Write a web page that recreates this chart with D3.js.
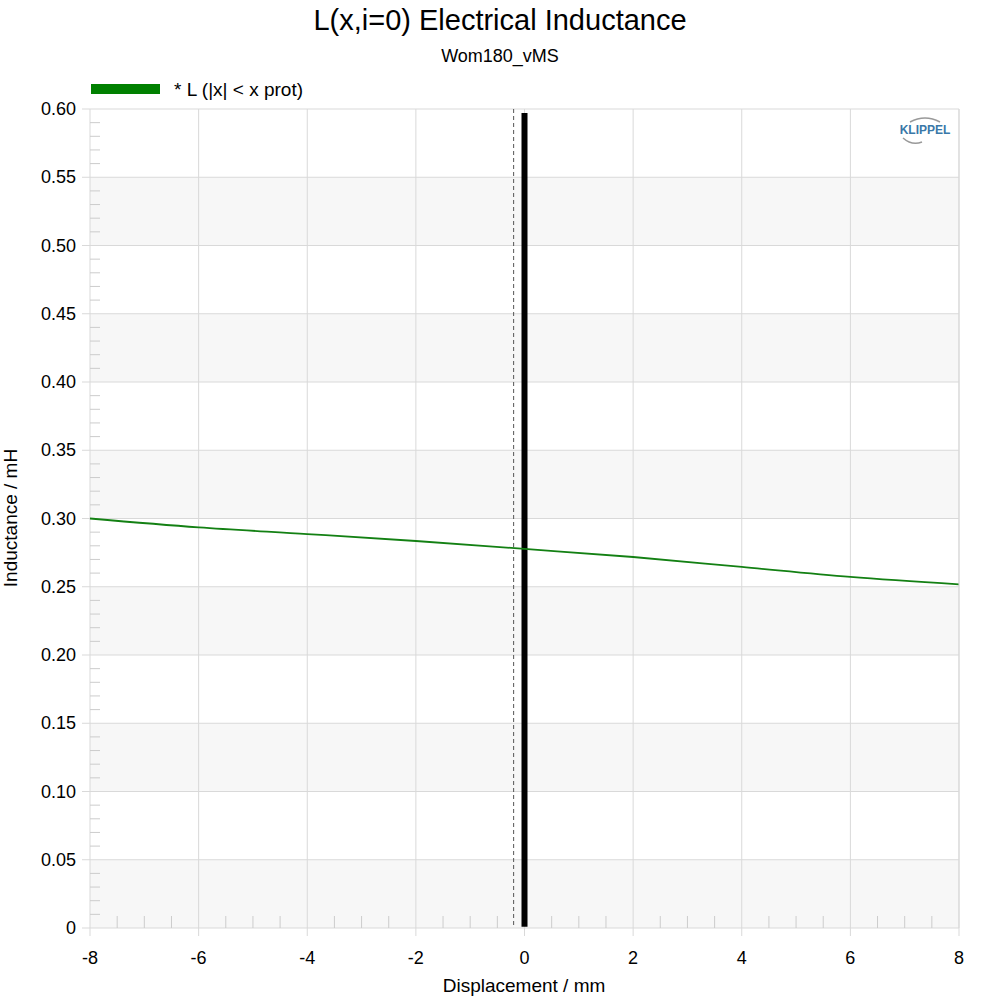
<!DOCTYPE html>
<html><head><meta charset="utf-8">
<script src="https://cdn.jsdelivr.net/npm/d3@7"></script>
<style>body{margin:0;background:#fff;font-family:Arial,"Liberation Sans",sans-serif;}</style>
</head><body><div id="chart"></div>
<script>
// data
var xs = [-8, -6, -4, -2, 0, 2, 4, 6, 8];
var inductance = [0.300, 0.2935, 0.2886, 0.2835, 0.2777, 0.2718, 0.2645, 0.2572, 0.2518];
var xTicks = [-8, -6, -4, -2, 0, 2, 4, 6, 8];
var yTicks = [0, 0.05, 0.10, 0.15, 0.20, 0.25, 0.30, 0.35, 0.40, 0.45, 0.50, 0.55, 0.60];
var xProt = 0, xRest = -0.2;

var W = 1000, H = 1000, m = {l: 90, r: 41, t: 109, b: 72};
var svg = d3.select("#chart").append("svg").attr("width", W).attr("height", H);
var x = d3.scaleLinear().domain([-8, 8]).range([m.l, W - m.r]);
var y = d3.scaleLinear().domain([0, 0.6]).range([H - m.b, m.t]);

// bands
for (var i = 0; i < yTicks.length - 1; i += 2) {
  svg.append("rect").attr("x", x(-8)).attr("width", x(8) - x(-8))
    .attr("y", y(yTicks[i + 1])).attr("height", y(yTicks[i]) - y(yTicks[i + 1]))
    .attr("fill", "#f7f7f7");
}
// grid
svg.selectAll(".gx").data(xTicks).enter().append("line")
  .attr("x1", d => x(d)).attr("x2", d => x(d)).attr("y1", y(0.6)).attr("y2", y(0) + 8)
  .attr("stroke", "#d9d9d9");
svg.selectAll(".gy").data(yTicks).enter().append("line")
  .attr("x1", x(-8) - 8).attr("x2", x(8)).attr("y1", d => y(d)).attr("y2", d => y(d))
  .attr("stroke", "#d9d9d9");
// minor ticks
svg.selectAll(".my").data(d3.range(0, 0.6001, 0.01).filter((d, i) => i % 5)).enter().append("line")
  .attr("x1", x(-8)).attr("x2", x(-8) + 10).attr("y1", d => y(d)).attr("y2", d => y(d))
  .attr("stroke", "#ccc");
svg.selectAll(".mx").data(d3.range(-8, 8.001, 0.5).filter((d, i) => i % 4)).enter().append("line")
  .attr("x1", d => x(d)).attr("x2", d => x(d)).attr("y1", y(0)).attr("y2", y(0) - 12)
  .attr("stroke", "#ccc");

// tick labels
svg.selectAll(".lx").data(xTicks).enter().append("text")
  .attr("x", d => x(d)).attr("y", y(0) + 36).attr("text-anchor", "middle")
  .attr("font-size", 18).text(d => d);
svg.selectAll(".ly").data(yTicks).enter().append("text")
  .attr("x", x(-8) - 14).attr("y", d => y(d) + 6).attr("text-anchor", "end")
  .attr("font-size", 18).text(d => d === 0 ? "0" : d.toFixed(2));

// markers
svg.append("line").attr("x1", x(xRest)).attr("x2", x(xRest)).attr("y1", y(0.6)).attr("y2", y(0))
  .attr("stroke", "#555").attr("stroke-dasharray", "4,3");
svg.append("line").attr("x1", x(xProt)).attr("x2", x(xProt)).attr("y1", y(0.597)).attr("y2", y(0.001))
  .attr("stroke", "#000").attr("stroke-width", 6);

// curve
svg.append("path").datum(xs.map((d, i) => [d, inductance[i]]))
  .attr("d", d3.line().x(d => x(d[0])).y(d => y(d[1])).curve(d3.curveMonotoneX))
  .attr("fill", "none").attr("stroke", "#138013").attr("stroke-width", 1.8);

svg.append("line").attr("x1", x(8)).attr("x2", x(8)).attr("y1", y(0.6)).attr("y2", y(0)).attr("stroke", "#d9d9d9");

// logo
svg.append("text").attr("x", 925).attr("y", 134).attr("text-anchor", "middle")
  .attr("font-size", 12).attr("font-weight", "bold").attr("fill", "#3a78a8").text("KLIPPEL");
svg.append("path").attr("d", "M910,122 Q925,114 940,122").attr("fill", "none").attr("stroke", "#999").attr("stroke-width", 1.5);
svg.append("path").attr("d", "M903,138 Q912,146 922,142").attr("fill", "none").attr("stroke", "#999").attr("stroke-width", 1.5);

// titles
svg.append("text").attr("x", 500).attr("y", 30).attr("text-anchor", "middle").attr("font-size", 29).text("L(x,i=0) Electrical Inductance");
svg.append("text").attr("x", 500).attr("y", 62).attr("text-anchor", "middle").attr("font-size", 18).text("Wom180_vMS");
svg.append("text").attr("x", 524).attr("y", 992).attr("text-anchor", "middle").attr("font-size", 19).text("Displacement / mm");
svg.append("text").attr("transform", "translate(17,518) rotate(-90)").attr("text-anchor", "middle").attr("font-size", 19).text("Inductance / mH");

// legend
svg.append("rect").attr("x", 91).attr("y", 84).attr("width", 69).attr("height", 10).attr("fill", "#008000");
svg.append("text").attr("x", 174).attr("y", 96).attr("font-size", 19).text("* L (|x| < x prot)");
</script></body></html>
